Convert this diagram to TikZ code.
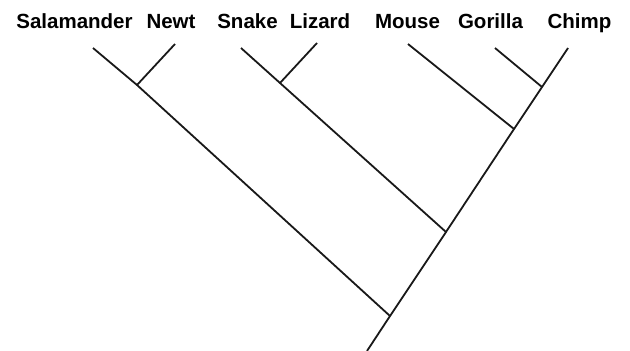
\documentclass[tikz,border=0pt]{standalone}
\usepackage{fontspec}
\setmainfont{Liberation Sans}
\usepackage{tikz}

\tikzset{
    branche/.style={line width=1.8pt, black!90},
    taxon/.style={anchor=base, inner sep=0pt, font=\fontsize{20.5}{24}\selectfont\bfseries}
}

\begin{document}
\begin{tikzpicture}[x=1pt, y=-1pt]
        \useasboundingbox (0,0) rectangle (630,351);

        %% ── Noms des taxons ────────────────────────────────────────────────
        \node[taxon] (salamandre) at (74.5,28) {Salamander};
        \node[taxon] (triton)     at (171,28)  {Newt};
        \node[taxon] (serpent)    at (247.5,28) {Snake};
        \node[taxon] (lezard)     at (320,28)  {Lizard};
        \node[taxon] (souris)     at (407.5,28) {Mouse};
        \node[taxon] (gorille)    at (490.5,28) {Gorilla};
        \node[taxon] (chimpanze)  at (579.5,28) {Chimp};

        %% ── Extrémités des branches ───────────────────────────────────────
        \coordinate (tSalamandre) at (93,48);
        \coordinate (tTriton)     at (175,44);
        \coordinate (tSerpent)    at (241,48);
        \coordinate (tLezard)     at (317,43);
        \coordinate (tSouris)     at (408,44);
        \coordinate (tGorille)    at (495,48);
        \coordinate (tChimpanze)  at (568,48);

        %% ── Noeuds internes ───────────────────────────────────────────────
        \coordinate (racine) at (367,351);
        \coordinate (nAmph)  at (390,316);
        \coordinate (nRept)  at (446,232);
        \coordinate (nMamm)  at (514,129);
        \coordinate (nPrim)  at (542,87);
        \coordinate (nTriton) at (137,85);
        \coordinate (nLezard) at (280,83);

        %% ── Tronc principal ───────────────────────────────────────────────
        \draw[branche] (racine) -- (nAmph) -- (nRept) -- (nMamm)
            -- (nPrim) -- (tChimpanze);

        %% ── Branches latérales ────────────────────────────────────────────
        \draw[branche] (nAmph) -- (nTriton) -- (tSalamandre);
        \draw[branche] (nTriton) -- (tTriton);
        \draw[branche] (nRept) -- (nLezard) -- (tSerpent);
        \draw[branche] (nLezard) -- (tLezard);
        \draw[branche] (nMamm) -- (tSouris);
        \draw[branche] (nPrim) -- (tGorille);

    \end{tikzpicture}
\end{document}
